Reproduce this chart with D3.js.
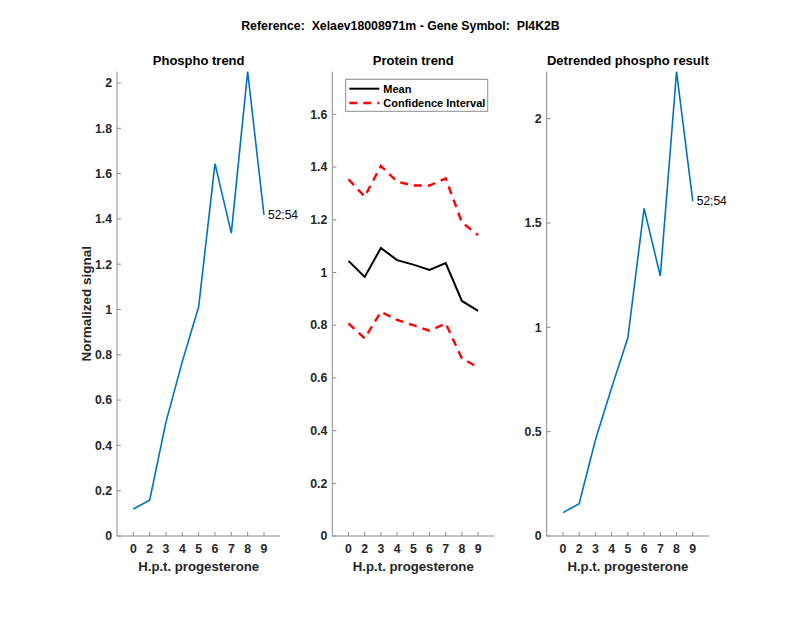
<!DOCTYPE html>
<html>
<head>
<meta charset="utf-8">
<script src="https://cdn.jsdelivr.net/npm/d3@7"></script>
<style>
  body { margin: 0; background: #fff; }
  svg { font-family: "Liberation Sans", Arial, sans-serif; }
</style>
</head>
<body>
<div id="chart"></div>
<script>
const timeLabels = ["0", "2", "3", "4", "5", "6", "7", "8", "9"];
const phospho = [0.119, 0.158, 0.504, 0.77, 1.012, 1.644, 1.337, 2.05, 1.418];
const proteinMean = [1.044, 0.983, 1.093, 1.047, 1.03, 1.01, 1.036, 0.892, 0.854];
const proteinUpper = [1.354, 1.288, 1.404, 1.345, 1.33, 1.33, 1.357, 1.19, 1.142];
const proteinLower = [0.807, 0.75, 0.851, 0.82, 0.80, 0.779, 0.807, 0.674, 0.64];
const detrended = [0.112, 0.155, 0.46, 0.71, 0.95, 1.57, 1.246, 2.225, 1.605];
const pointLabel = "52;54";
const leftTicks = [0, 0.2, 0.4, 0.6, 0.8, 1, 1.2, 1.4, 1.6, 1.8, 2];
const midTicks = [0, 0.2, 0.4, 0.6, 0.8, 1, 1.2, 1.4, 1.6];
const rightTicks = [0, 0.5, 1, 1.5, 2];

const W = 800, H = 618;
const plotTop = 71.7, plotBottom = 536;
const axisColor = "#8c8c8c", textColor = "#262626";
const blue = "#0072BD";
const tickFont = 12.3;

const svg = d3.select("#chart").append("svg")
  .attr("width", W).attr("height", H);

svg.append("text")
  .attr("x", 400.5).attr("y", 30)
  .attr("text-anchor", "middle")
  .attr("font-size", 12.3).attr("font-weight", "bold")
  .attr("fill", "#000")
  .style("white-space", "pre")
  .text("Reference:  Xelaev18008971m - Gene Symbol:  PI4K2B");

function panel(x0, x1, ymax, ticks, title) {
  const x = d3.scaleLinear().domain([0, 10]).range([x0, x1]);
  const y = d3.scaleLinear().domain([0, ymax]).range([plotBottom, plotTop]);
  const g = svg.append("g");

  // axis lines
  g.append("line").attr("x1", x0).attr("x2", x1).attr("y1", plotBottom).attr("y2", plotBottom)
    .attr("stroke", axisColor);
  g.append("line").attr("x1", x0).attr("x2", x0).attr("y1", plotBottom).attr("y2", plotTop)
    .attr("stroke", axisColor);

  // x ticks
  timeLabels.forEach((lab, i) => {
    g.append("line").attr("x1", x(i + 1)).attr("x2", x(i + 1))
      .attr("y1", plotBottom).attr("y2", plotBottom - 4).attr("stroke", axisColor);
    g.append("text").attr("x", x(i + 1)).attr("y", plotBottom + 17)
      .attr("text-anchor", "middle").attr("font-size", tickFont).attr("font-weight", "bold")
      .attr("fill", textColor).text(lab);
  });

  // y ticks
  ticks.forEach(t => {
    g.append("line").attr("x1", x0).attr("x2", x0 + 4)
      .attr("y1", y(t)).attr("y2", y(t)).attr("stroke", axisColor);
    g.append("text").attr("x", x0 - 5).attr("y", y(t)).attr("dy", "0.35em")
      .attr("text-anchor", "end").attr("font-size", tickFont).attr("font-weight", "bold")
      .attr("fill", textColor).text(t);
  });

  g.append("text").attr("x", (x0 + x1) / 2).attr("y", 65)
    .attr("text-anchor", "middle").attr("font-size", 13).attr("font-weight", "bold")
    .attr("fill", "#000").text(title);

  g.append("text").attr("x", (x0 + x1) / 2).attr("y", 571)
    .attr("text-anchor", "middle").attr("font-size", 13.2).attr("font-weight", "bold")
    .attr("fill", textColor).text("H.p.t. progesterone");

  const line = d3.line().x((d, i) => x(i + 1)).y(d => y(d));
  return { g, x, y, line };
}

// left
const p1 = panel(117, 280.3, 2.05, leftTicks, "Phospho trend");
p1.g.append("path").attr("d", p1.line(phospho)).attr("fill", "none")
  .attr("stroke", blue).attr("stroke-width", 1.6);
p1.g.append("text").attr("x", p1.x(9) + 4).attr("y", p1.y(phospho[8])).attr("dy", "0.35em")
  .attr("font-size", 12).attr("fill", "#000").text(pointLabel);
svg.append("text")
  .attr("transform", `translate(91,${(plotTop + plotBottom) / 2}) rotate(-90)`)
  .attr("text-anchor", "middle").attr("font-size", 13.5).attr("font-weight", "bold")
  .attr("fill", textColor).text("Normalized signal");

// middle
const p2 = panel(332.3, 494.3, 1.762, midTicks, "Protein trend");
[proteinUpper, proteinLower].forEach(s => {
  p2.g.append("path").attr("d", p2.line(s)).attr("fill", "none")
    .attr("stroke", "#ff0000").attr("stroke-width", 2.4).attr("stroke-dasharray", "8,6");
});
p2.g.append("path").attr("d", p2.line(proteinMean)).attr("fill", "none")
  .attr("stroke", "#000").attr("stroke-width", 2);

const lg = svg.append("g");
lg.append("rect").attr("x", 345.7).attr("y", 79.3).attr("width", 142).attr("height", 32)
  .attr("fill", "#fff").attr("stroke", axisColor);
lg.append("line").attr("x1", 349.3).attr("x2", 379.3).attr("y1", 88.7).attr("y2", 88.7)
  .attr("stroke", "#000").attr("stroke-width", 2);
lg.append("text").attr("x", 383.3).attr("y", 88.7).attr("dy", "0.35em")
  .attr("font-size", 11).attr("font-weight", "bold").attr("fill", "#000").text("Mean");
lg.append("line").attr("x1", 349.3).attr("x2", 379.3).attr("y1", 103).attr("y2", 103)
  .attr("stroke", "#ff0000").attr("stroke-width", 2.4).attr("stroke-dasharray", "8,6");
lg.append("text").attr("x", 383.3).attr("y", 103).attr("dy", "0.35em")
  .attr("font-size", 11).attr("font-weight", "bold").attr("fill", "#000").text("Confidence Interval");

// right
const p3 = panel(546.7, 709, 2.225, rightTicks, "Detrended phospho result");
p3.g.append("path").attr("d", p3.line(detrended)).attr("fill", "none")
  .attr("stroke", blue).attr("stroke-width", 1.6);
p3.g.append("text").attr("x", p3.x(9) + 4).attr("y", p3.y(detrended[8])).attr("dy", "0.35em")
  .attr("font-size", 12).attr("fill", "#000").text(pointLabel);
</script>
</body>
</html>
